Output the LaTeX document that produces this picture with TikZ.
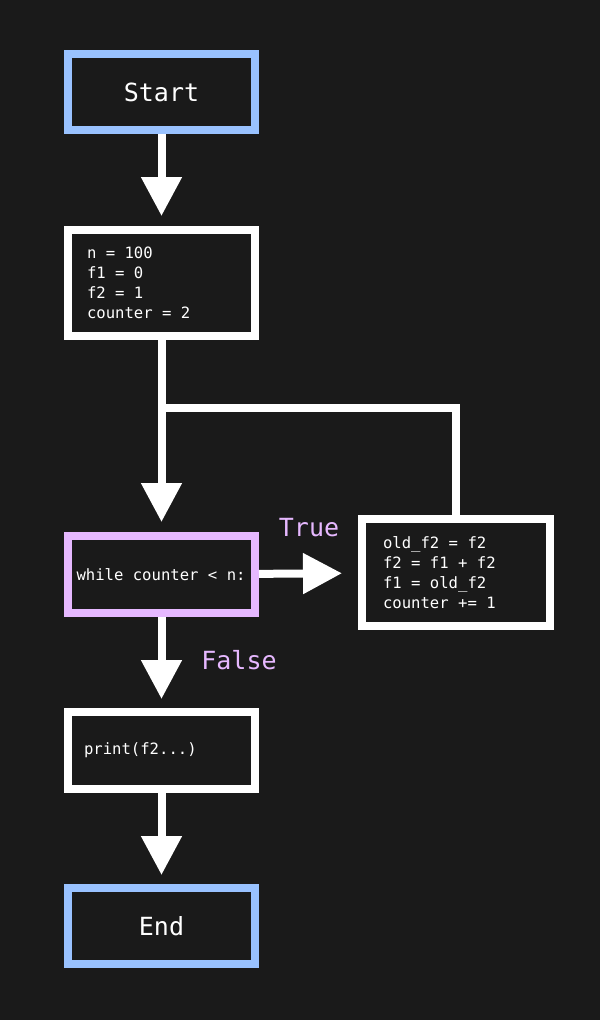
\documentclass[tikz,border=0pt]{standalone}
\usepackage{fontspec}
\setmonofont[WordSpace={1,0,0}]{DejaVu Sans Mono}
\newcommand\codefont{\ttfamily}
\usetikzlibrary{arrows.meta}
\definecolor{bg}{HTML}{1A1A1A}
\definecolor{termblue}{HTML}{99C2FF}
\definecolor{lav}{HTML}{E6B8FF}
\tikzset{
  box/.style={draw=white, line width=8pt, fill=bg, rectangle, minimum width=187pt, text=white, inner sep=0pt},
  term/.style={box, draw=termblue, minimum height=76pt, font=\fontsize{25}{30}\selectfont\codefont},
  code/.style={box, font=\fontsize{15.6}{20}\selectfont\codefont, align=flush left},
  flow/.style={draw=white, line width=8pt, -{Triangle[length=39pt 0 0, width=39pt 0 0]}, shorten >=10pt},
  wire/.style={draw=white, line width=8pt, line join=miter},
  lbl/.style={text=lav, font=\fontsize{25}{30}\selectfont\codefont, inner sep=0pt}
}
\begin{document}
\begin{tikzpicture}[x=1pt,y=-1pt]
\fill[bg] (0,0) rectangle (600,1020);
\useasboundingbox (0,0) rectangle (600,1020);
\node[term] (start) at (161.5,92) {Start};
\node[code, minimum height=106pt, text width=149pt, inner xsep=19pt] (init) at (161.5,283) {n = 100\\f1 = 0\\f2 = 1\\counter = 2};
\node[code, draw=lav, minimum height=77pt, text width=170pt, inner xsep=8.5pt] (cond) at (161.5,574.5) {while counter < n:};
\node[code, minimum width=188pt, minimum height=107pt, text width=146pt, inner xsep=21pt] (body) at (456,572.5) {old\_f2 = f2\\f2 = f1 + f2\\f1 = old\_f2\\counter += 1};
\node[code, minimum height=77pt, text width=155pt, inner xsep=16pt] (out) at (161.5,750.5) {print(f2...)};
\node[term] (end) at (161.5,926) {End};
\coordinate (join) at (161.5,408);
\draw[flow] (start) -- (init);
\draw[flow] (init) -- (cond);
\draw[wire] (body.north) |- (join);
\draw[flow, shorten >=16pt] (cond) -- (body);
\draw[flow, shorten >=9pt] (cond) -- (out);
\draw[flow, shorten >=9pt] (out) -- (end);
\node[lbl] (ltrue) at (309,528) {True};
\node[lbl] (lfalse) at (239,660) {False};
\end{tikzpicture}
\end{document}
